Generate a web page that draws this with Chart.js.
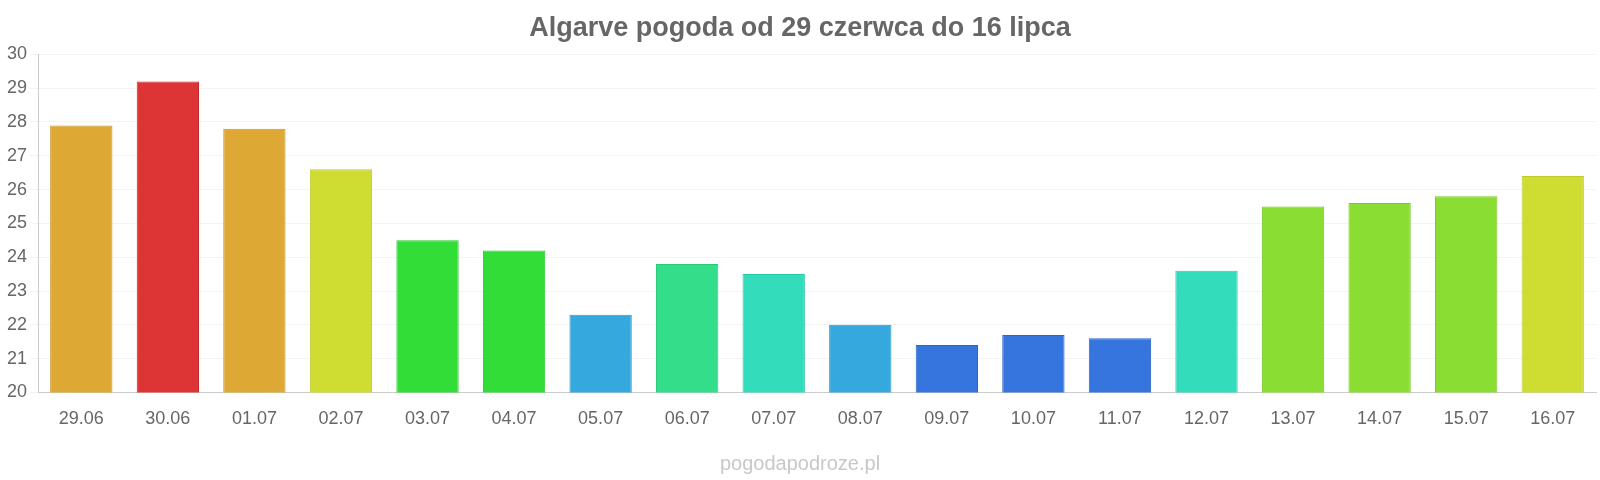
<!DOCTYPE html>
<html><head><meta charset="utf-8">
<script src="https://cdn.jsdelivr.net/npm/chart.js@4"></script>
<style>body{margin:0;background:#fff}#w{width:1600px;height:480px}</style>
</head><body><div id="w"><canvas id="c"></canvas></div>
<script>
const categories=["29.06","30.06","01.07","02.07","03.07","04.07","05.07","06.07","07.07","08.07","09.07","10.07","11.07","12.07","13.07","14.07","15.07","16.07"];
const temps=[27.9,29.2,27.8,26.6,24.5,24.2,22.3,23.8,23.5,22.0,21.4,21.7,21.6,23.6,25.5,25.6,25.8,26.4];
const barColors=["#dda833","#dd3535","#dda833","#cfdd33","#33dd38","#33dd38","#35a8dd","#33dd8a","#33ddbb","#35a8dd","#3575dd","#3575dd","#3575dd","#33ddbb","#8add33","#8add33","#8add33","#cfdd33"];
const borderColors=["#c9962a","#c92c2c","#c9962a","#bccb2a","#2ac92f","#2ac92f","#2c96c9","#2ac979","#2ac9a9","#2c96c9","#2c66c9","#2c66c9","#2c66c9","#2ac9a9","#79c92a","#79c92a","#79c92a","#bccb2a"];
new Chart(document.getElementById('c'),{type:'bar',
data:{labels:categories,datasets:[{data:temps,backgroundColor:barColors,borderColor:borderColors,borderWidth:1,categoryPercentage:0.9,barPercentage:0.8}]},
options:{responsive:true,maintainAspectRatio:false,animation:false,
layout:{padding:{left:4,right:4,top:0,bottom:0}},
plugins:{legend:{display:false},tooltip:{enabled:false},
title:{display:true,text:'Algarve pogoda od 29 czerwca do 16 lipca',color:'#666',font:{family:'Liberation Sans, Arial',size:27,weight:'bold'},padding:{top:12,bottom:10}},
subtitle:{display:true,position:'bottom',text:'pogodapodroze.pl',color:'#c8c8c8',font:{family:'Liberation Sans, Arial',size:20},padding:{top:14,bottom:4}}},
scales:{y:{min:20,max:30,ticks:{stepSize:1,color:'#666',font:{family:'Liberation Sans, Arial',size:18}},grid:{color:'#f3f3f3'},border:{color:'#ccc'}},
x:{ticks:{color:'#666',padding:8,font:{family:'Liberation Sans, Arial',size:18}},grid:{display:false},border:{color:'#ccc'}}}}});
</script></body></html>
